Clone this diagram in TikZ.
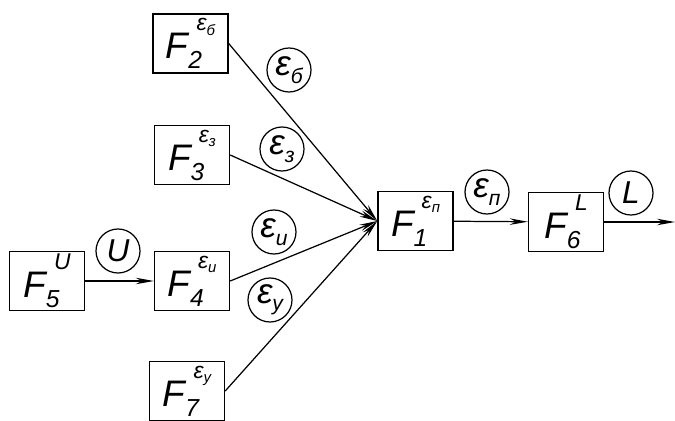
\documentclass[tikz,border=0pt]{standalone}
\usepackage{fontspec}
\setmainfont{Liberation Sans}
\usetikzlibrary{arrows.meta}

% block name F with index below and output symbol above
\newcommand\fsub[1]{\raisebox{-0.5ex}{\fontsize{14}{14}\selectfont #1}}
\newcommand\fsup[1]{\raisebox{1.45ex}{\fontsize{13}{13}\selectfont #1}}
\newcommand\blk[2]{F\fsub{#1}\kern-0.15em\fsup{#2}}
\newcommand\eps[2][8.5]{ε\raisebox{-0.4ex}{\fontsize{#1}{#1}\selectfont #2}}

\begin{document}
\begin{tikzpicture}[x=0.2mm,y=-0.2mm,>={Stealth[length=3.6mm,width=1.3mm]},
  func/.style={draw,line width=0.8pt,minimum width=1.5cm,minimum height=1.18cm,
    inner sep=0pt,font=\fontsize{21}{21}\selectfont\itshape},
  sig/.style={draw,circle,line width=0.7pt,minimum size=0.88cm,inner sep=0pt,
    font=\fontsize{20}{20}\selectfont\itshape},
  link/.style={->,line width=0.7pt}]
\useasboundingbox (0,0) rectangle (675,421);
% function blocks
\node[func] (f2) at (190.5,43.5) {\blk{2}{\eps{б}}};
\node[func] (f3) at (192,155) {\blk{3}{\eps{з}}};
\node[func] (f5) at (47,281) {\blk{5}{U}};
\node[func] (f4) at (192,281) {\blk{4}{\eps{и}}};
\node[func] (f7) at (187,391) {\blk{7}{\eps{у}}};
\node[func] (f1) at (415.5,221) {\blk{1}{\eps{п}}};
\node[func] (f6) at (566,222) {\blk{6}{L}};
\coordinate (out) at (675,222);
% signals
\node[sig] (eb) at (289,70) {\eps[12]{б}};
\node[sig] (ez) at (282,149) {\eps[12]{з}};
\node[sig,font=\fontsize{18}{18}\selectfont\itshape] (u) at (118,251) {U};
\node[sig] (ei) at (274,232) {\eps[12]{и}};
\node[sig] (ey) at (270,300) {\eps[12]{у}};
\node[sig] (ep) at (487,192) {\eps[12]{п}};
\node[sig,font=\fontsize{18}{18}\selectfont\itshape] (l) at (631,193) {L};
% links
\foreach \s in {f2,f3,f4,f7} \draw[link] (\s.east) -- (f1.west);
\draw[link] (f5) -- (f4);
\draw[link] (f1) -- (f6);
\draw[link] (f6) -- (out);
\end{tikzpicture}
\end{document}
